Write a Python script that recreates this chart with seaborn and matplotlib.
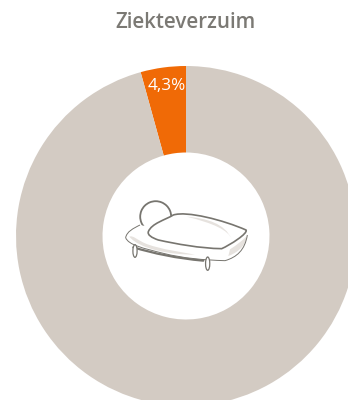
import matplotlib
matplotlib.use("Agg")
import matplotlib.pyplot as plt
import seaborn as sns
from matplotlib.patches import Arc, Ellipse, PathPatch
from matplotlib.path import Path

# Absence share in percent, and the remainder of the ring
categories = ["Ziekteverzuim", "Aanwezig"]
values = [4.3, 95.7]
colors = ["#f06a06", "#d3cbc3"]
title = "Ziekteverzuim"

sns.set_theme(style="white")

W, H = 348, 400
fig = plt.figure(figsize=(W / 100, H / 100), dpi=100, facecolor="white")
ax = fig.add_axes([0, 0, 1, 1])

# Ring: y axis is inverted, so the wedge angle runs clockwise on screen
cx, cy, outer, inner = 186, 236, 170, 83.5
wedges, _ = ax.pie(
    values,
    colors=colors,
    radius=outer,
    center=(cx, cy),
    startangle=-90,
    counterclock=False,
    wedgeprops=dict(width=outer - inner, linewidth=0),
    frame=True,
)
ax.set_xlim(0, W)
ax.set_ylim(H, 0)
ax.set_aspect("equal")
ax.axis("off")

ax.text(186, 22.5, title, ha="center", va="center", fontsize=14.8,
        fontweight="semibold", family="Open Sans", color="#7b7974")
label = f"{values[0]:.1f}".replace(".", ",") + "%"
ax.text(166.5, 85.5, label, ha="center", va="center", fontsize=12.3,
        family="Open Sans", color="white")


def px(points):
    # Icon outline is sketched on a 3x grid anchored at (90, 170)
    return [(90 + x / 3, 170 + y / 3) for x, y in points]


def curve(start, *segments, closed=False):
    verts = [start]
    codes = [Path.MOVETO]
    for seg in segments:
        verts += list(seg)
        codes += [Path.CURVE4] * 3
    if closed:
        verts.append(start)
        codes.append(Path.CLOSEPOLY)
    return Path(px(verts), codes)


ink = "#77756f"
shade = "#e6e2de"

# Head sits behind the bedding
ax.add_patch(Arc((155.7, 216.7), 31, 31, theta1=0, theta2=360,
                 edgecolor=ink, linewidth=1.3, zorder=3))

mattress_side = curve((150, 165), ((130, 175), (110, 185), (107, 203)),
                      ((115, 225), (160, 235), (220, 250)),
                      ((280, 265), (340, 270), (405, 272)),
                      ((440, 262), (465, 240), (472, 195)))
mattress_fill = curve((150, 165), ((130, 175), (110, 185), (107, 203)),
                      ((115, 225), (160, 235), (220, 250)),
                      ((280, 265), (340, 270), (405, 272)),
                      ((440, 262), (465, 240), (472, 195)),
                      ((440, 195), (300, 195), (150, 165)), closed=True)
blanket = curve((175, 185), ((185, 160), (225, 150), (250, 135)),
                ((290, 122), (400, 150), (468, 180)),
                ((475, 190), (420, 225), (395, 236)),
                ((330, 235), (260, 222), (205, 210)),
                ((185, 203), (172, 195), (175, 185)), closed=True)

ax.add_patch(PathPatch(mattress_fill, facecolor="white", edgecolor="none", zorder=4))

# Lower shading on the mattress side
for path in [
    curve((420, 238), ((440, 225), (460, 210), (470, 198)),
          ((470, 220), (450, 245), (415, 258)), closed=True),
    curve((118, 200), ((130, 195), (140, 210), (170, 222)),
          ((220, 240), (270, 245), (315, 254)),
          ((240, 254), (150, 238), (118, 200)), closed=True),
]:
    ax.add_patch(PathPatch(path, facecolor=shade, edgecolor="none", zorder=5))

ax.add_patch(PathPatch(mattress_side, facecolor="none", edgecolor=ink, linewidth=0.7, zorder=6))
ax.add_patch(PathPatch(blanket, facecolor="white", edgecolor=ink, linewidth=1.2, zorder=7))

# Highlight along the far edge of the blanket
ax.add_patch(PathPatch(
    curve((290, 140), ((350, 145), (405, 160), (425, 208)),
          ((415, 180), (370, 160), (290, 140)), closed=True),
    facecolor=shade, edgecolor="none", zorder=8))

# Bed frame
ax.add_patch(PathPatch(curve((130, 232), ((190, 250), (260, 265), (340, 272))),
                       facecolor="none", edgecolor=ink, linewidth=1.6,
                       capstyle="round", zorder=6))

# Bed feet
for fx, fy, fh in [(135, 243, 38), (353, 281, 40)]:
    (ex, ey), = px([(fx, fy)])
    ax.add_patch(Ellipse((ex, ey), 4.2, fh / 3, facecolor="white", edgecolor=ink,
                         linewidth=0.9, zorder=9))

fig.savefig("out.png", dpi=100)
